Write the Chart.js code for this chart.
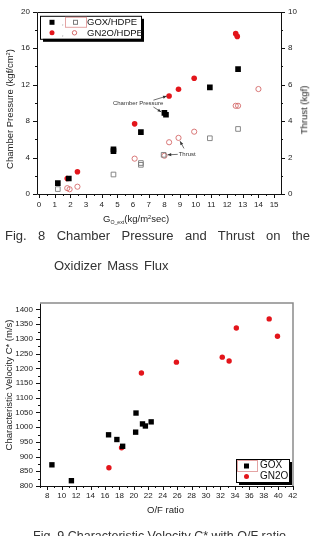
<!DOCTYPE html>
<html>
<head>
<meta charset="utf-8">
<script src="https://cdn.jsdelivr.net/npm/chart.js@4/dist/chart.umd.min.js"></script>
<style>
  html, body { margin: 0; padding: 0; background: #fff; }
  body { width: 313px; height: 536px; position: relative; overflow: hidden; font-family: "Liberation Sans", Arial, sans-serif; color: #222; }
  .box { position: absolute; left: 0; width: 313px; }
  .t { position: absolute; white-space: nowrap; line-height: 1; color: #222; }
  .rot { transform: translate(-50%, -50%) rotate(-90deg); }
  .cap { position: absolute; font-size: 13px; line-height: 13px; color: #333; white-space: nowrap; }
  sup { font-size: 60%; vertical-align: 0.5em; line-height: 0; }
  sub { font-size: 55%; vertical-align: -0.3em; line-height: 0; }
</style>
</head>
<body>
<div class="box" style="top:0;height:230px"><canvas id="c1"></canvas></div>
<div class="box" style="top:280px;height:240px"><canvas id="c2"></canvas></div>

<div class="t rot" style="left:10px;top:109px;font-size:9.5px">Chamber Pressure (kgf/cm<sup>2</sup>)</div>
<div class="t rot" style="left:304px;top:110px;font-size:9.5px">Thrust (kgf)</div>
<div class="t" style="left:103px;top:214px;font-size:9.5px">G<sub>O_ext</sub>(kg/m<sup>2</sup>sec)</div>
<div class="cap" style="left:5px;top:229px;width:305px;text-align:justify;text-align-last:justify">Fig. 8 Chamber Pressure and Thrust on the</div>
<div class="cap" style="left:54px;top:259px;word-spacing:2px">Oxidizer Mass Flux</div>

<div class="t rot" style="left:9px;top:385px;font-size:9.5px">Characteristic Velocity C* (m/s)</div>
<div class="t" style="left:147px;top:505px;font-size:9.5px">O/F ratio</div>
<div class="cap" style="left:33px;top:530px;font-size:12.5px">Fig. 9 Characteristic Velocity C* with O/F ratio</div>

<script>
// Fig. 8 - pression chambre et poussee selon le flux massique
var goxFlux = [1.2, 1.9, 4.75, 4.75, 6.5, 8.0, 8.1, 10.9, 12.7];
var goxPc = [1.2, 1.7, 4.9, 4.7, 6.8, 8.9, 8.7, 11.7, 13.7];
var gn2oFlux = [1.8, 2.45, 6.1, 8.3, 8.9, 9.9, 12.55, 12.65];
var gn2oPc = [1.7, 2.45, 7.7, 10.75, 11.5, 12.7, 17.6, 17.3];
var goxThrustFlux = [1.2, 4.75, 6.5, 6.5, 7.95, 10.9, 12.7];
var goxThrust = [0.27, 1.07, 1.7, 1.6, 2.15, 3.06, 3.57];
var gn2oThrustFlux = [1.8, 1.95, 2.45, 6.1, 8.0, 8.3, 8.9, 9.9, 12.55, 12.7, 14.0];
var gn2oThrust = [0.32, 0.26, 0.4, 1.94, 2.1, 2.84, 3.08, 3.42, 4.84, 4.84, 5.76];

// Fig. 9 - vitesse caracteristique selon O/F
var goxOF = [8.65, 11.35, 16.5, 17.65, 18.45, 20.25, 20.3, 21.2, 21.6, 22.4];
var goxCstar = [872, 818, 974, 958, 935, 983, 1048, 1011, 1004, 1018];
var gn2oOF = [16.55, 18.3, 21.05, 25.9, 32.25, 33.2, 34.2, 38.75, 39.9];
var gn2oCstar = [862, 930, 1184, 1221, 1238, 1225, 1337, 1368, 1309];

var RED = '#e3151b';
var PINK = '#d56a6a';
var GREY = '#7a7a7a';

Chart.defaults.font.family = '"Liberation Sans", Arial, sans-serif';
Chart.defaults.color = '#222';
Chart.defaults.animation = false;

function pts(xs, ys) {
  return xs.map(function (x, i) { return { x: x, y: ys[i] }; });
}

// ticks majeures / mineures + cadre, dessines a la main
function drawTicksAndFrame(chart, fullFrame) {
  var ctx = chart.ctx, a = chart.chartArea;
  ctx.save();
  ctx.strokeStyle = '#111';
  ctx.lineWidth = 1;
  Object.keys(chart.scales).forEach(function (id) {
    var s = chart.scales[id];
    s.ticks.forEach(function (t) {
      var major = s.options.ticks.callback(t.value) !== '';
      var len = major ? 4 : 2;
      var p = Math.round(s.getPixelForValue(t.value)) + 0.5;
      ctx.beginPath();
      if (s.axis === 'x') {
        ctx.moveTo(p, a.bottom); ctx.lineTo(p, a.bottom + len);
      } else if (s.position === 'left') {
        ctx.moveTo(a.left, p); ctx.lineTo(a.left - len, p);
      } else {
        ctx.moveTo(a.right, p); ctx.lineTo(a.right + len, p);
      }
      ctx.stroke();
    });
  });
  var l = Math.round(a.left) + 0.5, r = Math.round(a.right) + 0.5;
  var tp = Math.round(a.top) + 0.5, b = Math.round(a.bottom) + 0.5;
  ctx.beginPath();
  ctx.moveTo(l, tp); ctx.lineTo(l, b); ctx.lineTo(r, b);
  if (fullFrame) { ctx.lineTo(r, tp); ctx.lineTo(l, tp); }
  ctx.stroke();
  if (!fullFrame) {
    ctx.strokeStyle = '#8a8a8a';
    ctx.lineWidth = 1.5;
    ctx.beginPath();
    ctx.moveTo(a.left, a.top); ctx.lineTo(a.right, a.top); ctx.lineTo(a.right, a.bottom);
    ctx.stroke();
  }
  ctx.restore();
}

function arrow(ctx, x1, y1, x2, y2) {
  var ang = Math.atan2(y2 - y1, x2 - x1);
  ctx.beginPath(); ctx.moveTo(x1, y1); ctx.lineTo(x2, y2); ctx.stroke();
  ctx.beginPath();
  ctx.moveTo(x2, y2);
  ctx.lineTo(x2 - 4 * Math.cos(ang - 0.4), y2 - 4 * Math.sin(ang - 0.4));
  ctx.lineTo(x2 - 4 * Math.cos(ang + 0.4), y2 - 4 * Math.sin(ang + 0.4));
  ctx.closePath(); ctx.fill();
}

function legendBox(ctx, x, y, w, h) {
  ctx.fillStyle = '#000';
  ctx.fillRect(x + 3, y + 3, w, h);
  ctx.fillStyle = '#fff';
  ctx.fillRect(x, y, w, h);
  ctx.strokeStyle = '#000';
  ctx.lineWidth = 1;
  ctx.strokeRect(x + 0.5, y + 0.5, w, h);
}

var fig8Extras = {
  id: 'fig8Extras',
  afterDraw: function (chart) {
    drawTicksAndFrame(chart, true);
    var ctx = chart.ctx, a = chart.chartArea;
    var sx = chart.scales.x, sy = chart.scales.y;
    function X(v) { return sx.getPixelForValue(v); }
    function Y(v) { return sy.getPixelForValue(v); }
    ctx.save();
    // annotations
    ctx.fillStyle = '#333'; ctx.strokeStyle = '#333'; ctx.lineWidth = 0.7;
    ctx.font = '6px "Liberation Sans", Arial, sans-serif';
    ctx.textAlign = 'center'; ctx.textBaseline = 'middle';
    ctx.fillText('Chamber Pressure', X(6.32), Y(9.9));
    arrow(ctx, X(7.3), Y(10.3), X(8.15), Y(10.75));
    arrow(ctx, X(7.3), Y(9.55), X(7.8), Y(9.0));
    ctx.fillText('Thrust', X(9.45), Y(4.35));
    arrow(ctx, X(8.85), Y(4.35), X(8.2), Y(4.3));
    arrow(ctx, X(9.25), Y(5.0), X(9.0), Y(5.8));

    // legende
    var lx = a.left + 3, ly = a.top + 4;
    legendBox(ctx, lx, ly, 101, 23);
    ctx.strokeStyle = '#e4a4a4'; ctx.lineWidth = 1;
    ctx.strokeRect(lx + 25.5, ly + 1.5, 21, 10);
    ctx.fillStyle = '#000';
    ctx.fillRect(lx + 9.5, ly + 4, 5, 5);
    ctx.strokeStyle = GREY;
    ctx.strokeRect(lx + 33.5, ly + 4.5, 4, 4);
    ctx.fillStyle = RED;
    ctx.beginPath(); ctx.arc(lx + 12, ly + 17, 2.5, 0, Math.PI * 2); ctx.fill();
    ctx.strokeStyle = PINK;
    ctx.beginPath(); ctx.arc(lx + 34.5, ly + 17, 2.2, 0, Math.PI * 2); ctx.stroke();
    ctx.fillStyle = '#555';
    ctx.font = '6px "Liberation Sans", Arial, sans-serif';
    ctx.textAlign = 'left';
    ctx.fillText(',', lx + 22, ly + 8);
    ctx.fillText(',', lx + 22, ly + 19);
    ctx.fillStyle = '#111';
    ctx.font = '9.5px "Liberation Sans", Arial, sans-serif';
    ctx.fillText('GOX/HDPE', lx + 47, ly + 6.5);
    ctx.fillText('GN2O/HDPE', lx + 47, ly + 17.5);
    ctx.restore();
  }
};

var fig9Extras = {
  id: 'fig9Extras',
  afterDraw: function (chart) {
    drawTicksAndFrame(chart, false);
    var ctx = chart.ctx, a = chart.chartArea;
    ctx.save();
    var lx = a.right - 57, ly = a.bottom - 27;
    legendBox(ctx, lx, ly, 53, 23);
    ctx.strokeStyle = '#e4a4a4'; ctx.lineWidth = 1;
    ctx.strokeRect(lx + 1.5, ly + 1.5, 20, 11);
    ctx.fillStyle = '#000';
    ctx.fillRect(lx + 8, ly + 4.5, 5, 5);
    ctx.fillStyle = RED;
    ctx.beginPath(); ctx.arc(lx + 10.5, ly + 17.5, 2.5, 0, Math.PI * 2); ctx.fill();
    ctx.fillStyle = '#111';
    ctx.font = '10px "Liberation Sans", Arial, sans-serif';
    ctx.textAlign = 'left'; ctx.textBaseline = 'middle';
    ctx.fillText('GOX', lx + 24, ly + 6.5);
    ctx.fillText('GN2O', lx + 24, ly + 17.5);
    ctx.restore();
  }
};

var tickFont = { size: 8 };

new Chart(document.getElementById('c1'), {
  type: 'scatter',
  data: {
    datasets: [
      { label: 'GOX/HDPE Pc', data: pts(goxFlux, goxPc), yAxisID: 'y', pointStyle: 'rect', pointRadius: 4, backgroundColor: '#000', borderColor: '#000', borderWidth: 0 },
      { label: 'GN2O/HDPE Pc', data: pts(gn2oFlux, gn2oPc), yAxisID: 'y', pointStyle: 'circle', pointRadius: 2.8, backgroundColor: RED, borderColor: RED, borderWidth: 0 },
      { label: 'GOX/HDPE F', data: pts(goxThrustFlux, goxThrust), yAxisID: 'y2', pointStyle: 'rect', pointRadius: 3.3, backgroundColor: 'rgba(0,0,0,0)', borderColor: GREY, borderWidth: 0.9 },
      { label: 'GN2O/HDPE F', data: pts(gn2oThrustFlux, gn2oThrust), yAxisID: 'y2', pointStyle: 'circle', pointRadius: 2.6, backgroundColor: 'rgba(0,0,0,0)', borderColor: PINK, borderWidth: 0.9 }
    ]
  },
  options: {
    responsive: true,
    maintainAspectRatio: false,
    devicePixelRatio: 1,
    layout: { padding: { top: 10, left: 0, right: 0, bottom: 0 } },
    plugins: { legend: { display: false }, tooltip: { enabled: false } },
    scales: {
      x: {
        type: 'linear', min: -0.13, max: 15.44,
        grid: { display: false, drawTicks: false }, border: { display: false },
        ticks: { stepSize: 0.5, includeBounds: false, autoSkip: false, maxRotation: 0, padding: 6, font: tickFont,
          callback: function (v) { return Number.isInteger(v) ? String(v) : ''; } },
        afterFit: function (s) { s.height = 36; }
      },
      y: {
        position: 'left', min: 0, max: 20,
        grid: { display: false, drawTicks: false }, border: { display: false },
        ticks: { stepSize: 2, includeBounds: false, autoSkip: false, padding: 7, font: tickFont,
          callback: function (v) { return v % 4 === 0 ? String(v) : ''; } },
        afterFit: function (s) { s.width = 37; }
      },
      y2: {
        position: 'right', min: 0, max: 10,
        grid: { display: false, drawTicks: false }, border: { display: false },
        ticks: { stepSize: 1, includeBounds: false, autoSkip: false, padding: 7, font: tickFont,
          callback: function (v) { return v % 2 === 0 ? String(v) : ''; } },
        afterFit: function (s) { s.width = 32; }
      }
    }
  },
  plugins: [fig8Extras]
});

new Chart(document.getElementById('c2'), {
  type: 'scatter',
  data: {
    datasets: [
      { label: 'GOX', data: pts(goxOF, goxCstar), pointStyle: 'rect', pointRadius: 3.8, backgroundColor: '#000', borderColor: '#000', borderWidth: 0 },
      { label: 'GN2O', data: pts(gn2oOF, gn2oCstar), pointStyle: 'circle', pointRadius: 2.7, backgroundColor: RED, borderColor: RED, borderWidth: 0 }
    ]
  },
  options: {
    responsive: true,
    maintainAspectRatio: false,
    devicePixelRatio: 1,
    layout: { padding: { top: 23, left: 0, right: 20, bottom: 0 } },
    plugins: { legend: { display: false }, tooltip: { enabled: false } },
    scales: {
      x: {
        type: 'linear', min: 7, max: 42.05,
        grid: { display: false, drawTicks: false }, border: { display: false },
        ticks: { stepSize: 1, includeBounds: false, autoSkip: false, maxRotation: 0, padding: 5, font: tickFont,
          callback: function (v) { return v % 2 === 0 ? String(v) : ''; } },
        afterFit: function (s) { s.height = 34; }
      },
      y: {
        position: 'left', min: 800, max: 1422,
        grid: { display: false, drawTicks: false }, border: { display: false },
        ticks: { stepSize: 25, includeBounds: false, autoSkip: false, padding: 7, font: tickFont,
          callback: function (v) { return v % 50 === 0 ? String(v) : ''; } },
        afterFit: function (s) { s.width = 40; }
      }
    }
  },
  plugins: [fig9Extras]
});
</script>
</body>
</html>
